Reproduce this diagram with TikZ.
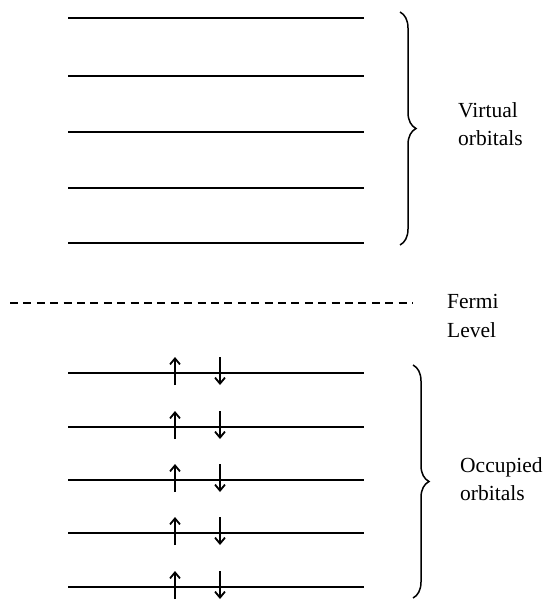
\documentclass[tikz,border=0pt]{standalone}
\usepackage{fontspec}
\setmainfont{Liberation Serif}
\usetikzlibrary{arrows.meta,decorations.pathreplacing}
\begin{document}
\begin{tikzpicture}[x=1pt,y=-1pt,
  orbital/.style={line width=2pt},
  spin/.style={line width=1.8pt,-{Straight Barb[length=6pt,width=10pt,line width=1.8pt]}},
  bracestyle/.style={line width=1.5pt,decorate,decoration={brace,amplitude=16pt,aspect=0.5}},
  label/.style={font=\fontsize{21.5}{28.5}\selectfont,align=left,anchor=west,inner sep=0pt}]
\useasboundingbox (0,0) rectangle (548,602);
% virtual orbitals
\foreach \y [count=\i] in {18,76,132,188,243}{
  \coordinate (vl\i) at (68,\y);
  \coordinate (vr\i) at (364,\y);
  \draw[orbital] (vl\i) -- (vr\i);
}
\coordinate (vbt) at (400,12);
\coordinate (vbb) at (400,245);
\draw[bracestyle] (vbt) -- (vbb);
\node[label] (virt) at (458,124) {Virtual\\orbitals};
% Fermi level
\coordinate (fl) at (10,303);
\coordinate (fr) at (413,303);
\draw[line width=1.5pt,dash pattern=on 8pt off 5.4pt] (fl) -- (fr);
\node[label] (fermi) at (447,316) {Fermi\\Level};
% occupied orbitals
\foreach \y [count=\i] in {373,427,480,533,587}{
  \coordinate (ol\i) at (68,\y);
  \coordinate (or\i) at (364,\y);
  \draw[orbital] (ol\i) -- (or\i);
  \coordinate (ua\i) at (175,\y+12);
  \coordinate (ub\i) at (175,\y-16);
  \coordinate (da\i) at (220,\y-16);
  \coordinate (db\i) at (220,\y+12);
  \draw[spin] (ua\i) -- (ub\i);
  \draw[spin] (da\i) -- (db\i);
}
\coordinate (obt) at (413,365);
\coordinate (obb) at (413,598);
\draw[bracestyle] (obt) -- (obb);
\node[label] (occ) at (460,479) {Occupied\\orbitals};
\end{tikzpicture}
\end{document}
